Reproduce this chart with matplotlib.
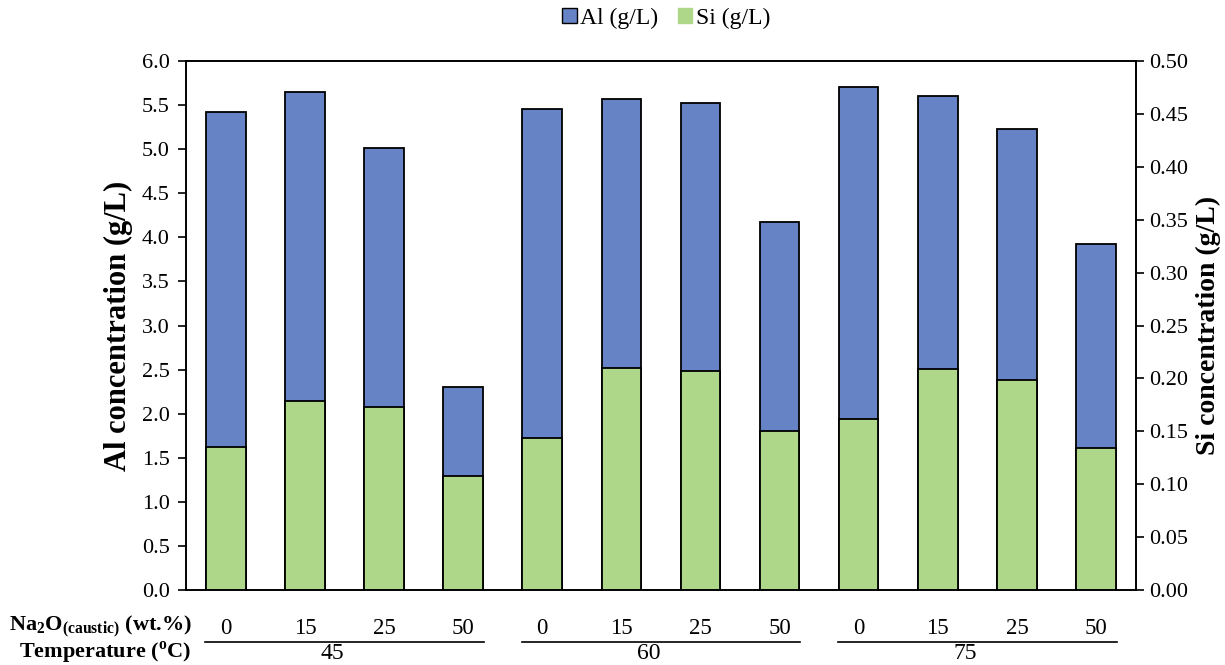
import numpy as np
import matplotlib.pyplot as plt
from matplotlib.patches import Patch

plt.rcParams['font.family'] = ['Liberation Serif', 'DejaVu Serif']
plt.rcParams['mathtext.fontset'] = 'custom'
plt.rcParams['mathtext.rm'] = 'Liberation Serif'
plt.rcParams['mathtext.bf'] = 'Liberation Serif:bold'

na2o = ['0', '15', '25', '50'] * 3
temps = ['45', '60', '75']
al = [5.42, 5.65, 5.01, 2.30, 5.46, 5.57, 5.53, 4.17, 5.71, 5.61, 5.23, 3.93]
si = [0.135, 0.179, 0.173, 0.108, 0.144, 0.210, 0.207, 0.150, 0.162, 0.209, 0.198, 0.134]

blue = '#6683C6'
green = '#AFD789'

fig = plt.figure(figsize=(12.25, 6.65), dpi=100)
ax = fig.add_axes([0.152, 0.113, 0.775, 0.795])
ax2 = ax.twinx()

x = np.arange(len(al))
ax.bar(x, al, width=0.5, color=blue, edgecolor='black', linewidth=1.3)
ax2.bar(x, si, width=0.5, color=green, edgecolor='black', linewidth=1.3)

ax.set_xlim(-0.5, 11.5)
ax.set_ylim(0, 6)
ax2.set_ylim(0, 0.5)
ax.set_yticks(np.arange(0, 6.01, 0.5))
ax.set_yticklabels(['%.1f' % v for v in np.arange(0, 6.01, 0.5)])
ax2.set_yticks(np.arange(0, 0.501, 0.05))
ax2.set_yticklabels(['%.2f' % v for v in np.arange(0, 0.501, 0.05)])

ax.set_xticks(x)
ax.set_xticklabels(na2o, fontsize=16.5)
ax.tick_params(axis='x', length=0, pad=20)
ax.tick_params(axis='y', labelsize=16, direction='out', length=6, width=1.2, pad=6)
ax2.tick_params(axis='y', labelsize=16, direction='out', length=6, width=1.2, pad=4)

for a in (ax, ax2):
    for s in a.spines.values():
        s.set_linewidth(1.2)

ax.set_ylabel('Al concentration (g/L)', fontsize=22, fontweight='bold', labelpad=6)
ax2.set_ylabel('Si concentration (g/L)', fontsize=20, fontweight='bold', labelpad=5)

# group labels under the axis
fig.text(0.157, 0.0571, r'Na$_\mathbf{2}$O$_\mathbf{(caustic)}$ (wt.%)', ha='right', va='center',
         fontsize=16, fontweight='bold')
fig.text(0.156, 0.018, r'Temperature ($^\mathbf{o}$C)', ha='right', va='center',
         fontsize=16, fontweight='bold')

tr = ax.get_xaxis_transform()
for g, t in enumerate(temps):
    ax.plot([4 * g - 0.26, 4 * g + 3.26], [-0.098, -0.098], color='black', lw=1.2,
            transform=tr, clip_on=False)
    ax.text(4 * g + 1.35, -0.13, t, transform=tr, ha='center', va='baseline', fontsize=17)

handles = [Patch(facecolor=blue, edgecolor='black', label='Al (g/L)'),
           Patch(facecolor=green, edgecolor=green, label='Si (g/L)')]
fig.legend(handles=handles, loc='center', bbox_to_anchor=(0.544, 0.972), ncol=2,
           frameon=False, fontsize=17, handlelength=0.6, handleheight=0.6,
           handletextpad=0.15, columnspacing=0.85)

fig.savefig('out.png', dpi=100)
